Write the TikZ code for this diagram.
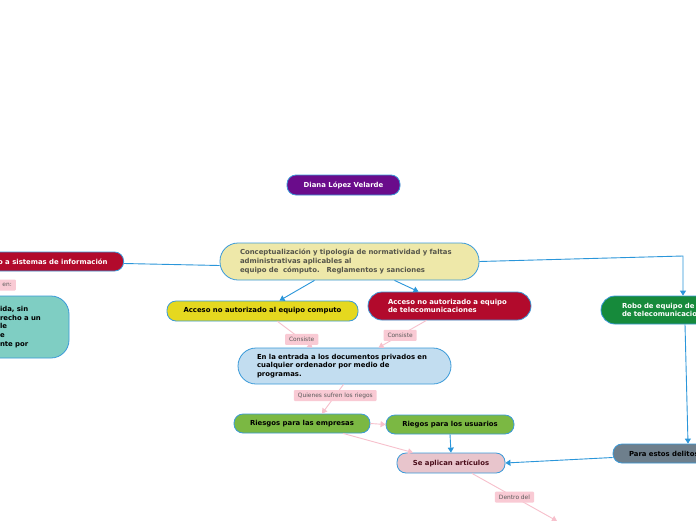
\documentclass[tikz,border=0pt]{standalone}
\usepackage{fontspec}
\setmainfont{DejaVu Sans}
\usepackage{tikz}
\usetikzlibrary{arrows.meta,calc,positioning}
\definecolor{borde}{HTML}{3A9AD9}
\definecolor{lineaazul}{HTML}{2A96DA}
\definecolor{linearosa}{HTML}{F7C0CC}
\definecolor{rosa}{HTML}{F9CAD4}
\definecolor{gristxt}{HTML}{5A5A5A}
\definecolor{morado}{HTML}{6A0C8B}
\definecolor{crema}{HTML}{EEE8A9}
\definecolor{grisosc}{HTML}{55554A}
\definecolor{rojo}{HTML}{B20A2C}
\definecolor{amarillo}{HTML}{E5D81F}
\definecolor{celeste}{HTML}{C2DDF0}
\definecolor{verde}{HTML}{7BB843}
\definecolor{verdeosc}{HTML}{168A3B}
\definecolor{rosaclaro}{HTML}{E8C5CC}
\definecolor{granate}{HTML}{4A0D1A}
\definecolor{pizarra}{HTML}{6E7F8C}
\definecolor{turquesa}{HTML}{7FCEC3}
\tikzset{
  nodo/.style={draw=borde,line width=0.8pt,rounded corners=9pt,minimum height=20pt,
    inner sep=0pt,font=\bfseries\fontsize{6.9}{8.6}\selectfont},
  etiqueta/.style={fill=rosa,rounded corners=1pt,inner xsep=4pt,inner ysep=0pt,
    minimum height=11pt,text=gristxt,font=\fontsize{5.9}{7}\selectfont},
  azul/.style={draw=lineaazul,line width=0.9pt,-{Triangle[length=5pt,width=6pt]}},
  rosado/.style={draw=linearosa,line width=0.9pt,-{Triangle[length=5pt,width=6pt]}}
}

\begin{document}
\begin{tikzpicture}[x=1pt,y=-1pt]
\fill[white] (0,0) rectangle (696,520);
\useasboundingbox (0,0) rectangle (696,520);
\clip (0,0) rectangle (696,520);
% nodos
\node[nodo,fill=morado,text=white,minimum width=113pt] (diana) at (343.5,185) {Diana López Velarde};
\node[nodo,fill=crema,text=grisosc,rounded corners=18pt,minimum height=37pt,
  text width=219pt,inner xsep=20pt,align=left] (central) at (349.5,261.5)
  {Conceptualización y tipología de normatividad y faltas\\administrativas aplicables al\\equipo de\ \ cómputo.\ \ \ Reglamentos y sanciones};
\node[nodo,fill=rojo,text=white,minimum height=19pt,inner xsep=16pt,anchor=east] (sistemas) at (124,261.5)
  {o a sistemas de información};
\node[etiqueta,anchor=east] (en) at (16,285) {en:};
\node[nodo,fill=turquesa,rounded corners=18pt,minimum height=62pt,text width=49pt,inner xsep=20pt,align=left] (definicion) at (24.5,327)
  {ida, sin\\recho a un\\le\\e\\nte por};
\node[nodo,fill=amarillo,minimum width=191pt] (computo) at (262.5,311) {Acceso no autorizado al equipo computo};
\node[nodo,fill=rojo,text=white,rounded corners=14pt,minimum height=28pt,text width=123pt,inner xsep=20pt,align=left] (telecom) at (449.5,306)
  {Acceso no autorizado a equipo\\de telecomunicaciones};
\node[nodo,fill=celeste,rounded corners=18pt,minimum height=36pt,text width=175pt,inner xsep=19pt,align=left] (entrada) at (344.5,366)
  {En la entrada a los documentos privados en\\cualquier ordenador por medio de\\programas.};
\node[nodo,fill=verde,minimum width=136pt,minimum height=19pt] (empresas) at (302,423.5) {Riesgos para las empresas};
\node[nodo,fill=verde,minimum width=128pt,minimum height=19pt] (usuarios) at (450,424.5) {Riegos para los usuarios};
\node[nodo,fill=rosaclaro,text=granate,minimum width=108pt] (articulos) at (451,463) {Se aplican artículos};
\node[nodo,fill=verdeosc,text=white,rounded corners=14pt,minimum height=28pt,text width=110pt,inner xsep=21pt,align=left] (robo) at (677,310)
  {Robo de equipo de\\de telecomunicaciones};
\node[nodo,fill=pizarra,minimum height=19pt,text width=90pt,inner xsep=16pt,align=left] (delitos) at (674,453.5) {Para estos delitos};
\coordinate (codo) at (683,256);
\coordinate (fuera) at (557,521);
% conectores
\draw[draw=lineaazul,line width=0.9pt] ($(central.west)+(0,4)$) -- ($(sistemas.east)+(0,2)$);
\draw[azul] ([xshift=-35pt]central.south) -- ([xshift=17pt]computo.north);
\draw[azul] ([xshift=45pt]central.south) -- ([xshift=-31pt]telecom.north);
\draw[azul] (central.east) -- (codo) -- ([xshift=6pt]robo.north);
\draw[azul] ([xshift=8pt]robo.south) -- ([xshift=14pt]delitos.north);
\draw[azul] ($(delitos.west)+(0,4)$) -- (articulos.east);
\draw[azul] (usuarios.south) -- (articulos.north);
\draw[rosado] ([xshift=15pt]computo.south) -- ([xshift=-32pt]entrada.north)
  node[etiqueta,pos=0.69] (consiste1) {Consiste};
\draw[rosado] ([xshift=-23pt]telecom.south) -- ([xshift=34pt]entrada.north)
  node[etiqueta,pos=0.55] (consiste2) {Consiste};
\draw[rosado] ([xshift=-1pt]entrada.south) -- ([xshift=20pt]empresas.north)
  node[etiqueta,pos=0.38] (quienes) {Quienes sufren los riegos};
\draw[rosado] (empresas.east) -- (usuarios.west);
\draw[rosado] ([xshift=41pt]empresas.south) -- ([xshift=-38pt]articulos.north);
\draw[rosado] ([xshift=21pt]articulos.south) -- (fuera)
  node[etiqueta,pos=0.5] (dentro) {Dentro del};
\end{tikzpicture}
\end{document}
